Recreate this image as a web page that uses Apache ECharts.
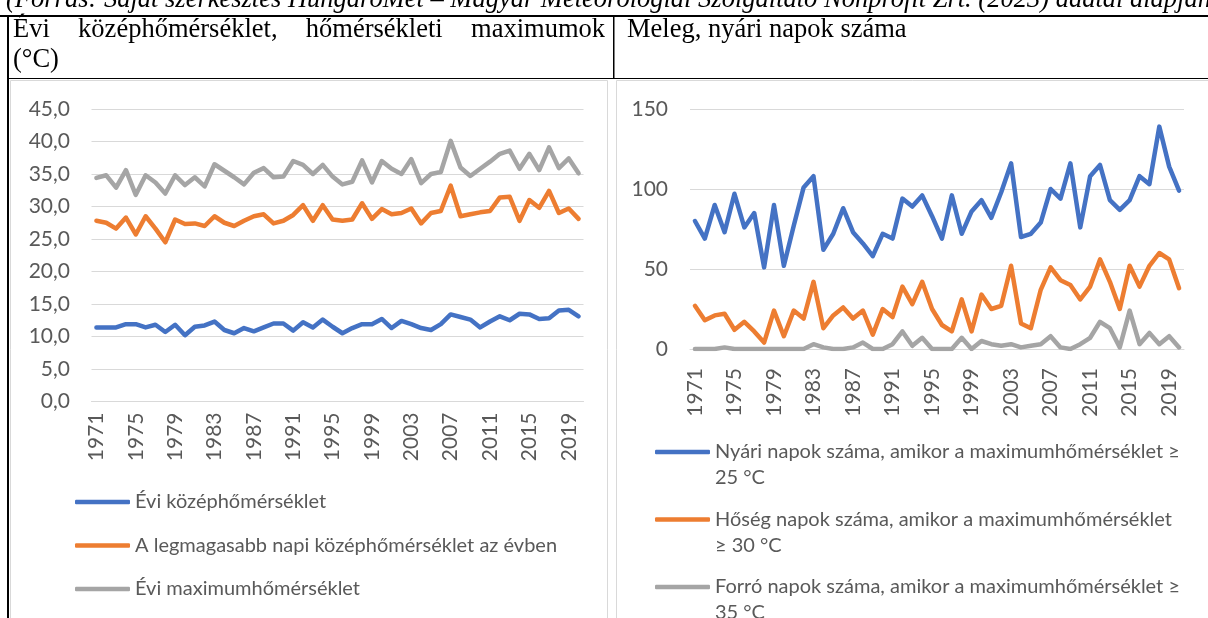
<!DOCTYPE html>
<html>
<head>
<meta charset="utf-8">
<title>Hőmérséklet, meleg napok</title>
<script src="https://cdn.jsdelivr.net/npm/echarts@6/dist/echarts.min.js"></script>
<style>
  html, body { margin: 0; padding: 0; background: #fff; }
  #chart { width: 1208px; height: 618px; }
</style>
</head>
<body>
<div id="chart"></div>
<script>
// évek (kategóriák)
const years = [
  '1971', '1972', '1973', '1974', '1975', '1976', '1977', '1978', '1979', '1980',
  '1981', '1982', '1983', '1984', '1985', '1986', '1987', '1988', '1989', '1990',
  '1991', '1992', '1993', '1994', '1995', '1996', '1997', '1998', '1999', '2000',
  '2001', '2002', '2003', '2004', '2005', '2006', '2007', '2008', '2009', '2010',
  '2011', '2012', '2013', '2014', '2015', '2016', '2017', '2018', '2019', '2020'
]

// bal oldali diagram (°C)
const meanTemp = [
  11.4, 11.4, 11.4, 11.9, 11.9, 11.4, 11.8, 10.7, 11.8, 10.2,
  11.5, 11.7, 12.3, 11.0, 10.5, 11.3, 10.8, 11.4, 12.0, 12.0,
  10.9, 12.2, 11.4, 12.6, 11.5, 10.5, 11.3, 11.9, 11.9, 12.7,
  11.3, 12.4, 11.9, 11.3, 11.0, 11.9, 13.4, 13.0, 12.6, 11.4,
  12.3, 13.1, 12.5, 13.5, 13.4, 12.7, 12.8, 14.0, 14.1, 13.1
]
const maxDailyMean = [
  27.8, 27.5, 26.6, 28.3, 25.7, 28.5, 26.6, 24.5, 28.0, 27.3,
  27.4, 27.0, 28.5, 27.5, 27.0, 27.8, 28.5, 28.8, 27.4, 27.8,
  28.7, 30.2, 27.8, 30.2, 28.0, 27.8, 28.0, 30.5, 28.1, 29.6,
  28.8, 29.0, 29.7, 27.4, 29.0, 29.3, 33.2, 28.5, 28.8, 29.1,
  29.3, 31.4, 31.5, 27.8, 31.0, 29.8, 32.4, 29.0, 29.7, 28.1
]
const annualMax = [
  34.4, 34.8, 32.9, 35.6, 31.8, 34.8, 33.7, 32.0, 34.8, 33.3,
  34.5, 33.1, 36.5, 35.5, 34.5, 33.4, 35.2, 35.9, 34.5, 34.6,
  37.0, 36.4, 35.0, 36.4, 34.6, 33.4, 33.8, 37.1, 33.7, 37.0,
  35.8, 35.0, 37.3, 33.6, 35.0, 35.3, 40.1, 36.0, 34.7, 35.8,
  36.9, 38.1, 38.6, 35.8, 38.1, 35.6, 39.1, 35.9, 37.4, 35.1
]

// jobb oldali diagram (napok száma)
const summerDays = [
  80, 69, 90, 73, 97, 76, 85, 51, 90, 52,
  77, 101, 108, 62, 72, 88, 73, 66, 58, 72,
  69, 94, 89, 96, 83, 69, 96, 72, 86, 93,
  82, 98, 116, 70, 72, 79, 100, 94, 116, 76,
  108, 115, 93, 87, 93, 108, 103, 139, 114, 99
]
const heatDays = [
  27, 18, 21, 22, 12, 17, 11, 4, 24, 8,
  24, 19, 42, 13, 21, 26, 19, 24, 9, 25,
  20, 39, 28, 42, 25, 15, 11, 31, 11, 34,
  25, 27, 52, 16, 13, 37, 51, 43, 40, 31,
  39, 56, 42, 25, 52, 39, 52, 60, 56, 38
]
const hotDays = [
  0, 0, 0, 1, 0, 0, 0, 0, 0, 0,
  0, 0, 3, 1, 0, 0, 1, 4, 0, 0,
  3, 11, 2, 7, 0, 0, 0, 7, 0, 5,
  3, 2, 3, 1, 2, 3, 8, 1, 0, 3,
  7, 17, 13, 1, 24, 3, 10, 3, 8, 1
]

const leftNames = [
  'Évi középhőmérséklet',
  'A legmagasabb napi középhőmérséklet az évben',
  'Évi maximumhőmérséklet'
]
const rightNames = [
  'Nyári napok száma, amikor a maximumhőmérséklet ≥\n25 °C',
  'Hőség napok száma, amikor a maximumhőmérséklet\n≥ 30 °C',
  'Forró napok száma, amikor a maximumhőmérséklet ≥\n35 °C'
]
const colors = ['#4472C4', '#ED7D31', '#A5A5A5']

const sans = 'Lato'
const serif = '"Liberation Serif", "Times New Roman", serif'
const textGray = '#595959'
const gridGray = '#D9D9D9'
const axisFont = 21
const legendFont = 20

// sorkizárt fejléc szavainak helye
const headWords = ['Évi', 'középhőmérséklet,', 'hőmérsékleti', 'maximumok']
const headFont = '26.5px ' + serif
const ctx = document.createElement('canvas').getContext('2d')
ctx.font = headFont
const wordW = headWords.map(w => ctx.measureText(w).width)
const headLeft = 13, headRight = 605
const wordGap = (headRight - headLeft - wordW.reduce((a, b) => a + b, 0)) / (headWords.length - 1)
const headTexts = []
let hx = headLeft
headWords.forEach((w, i) => {
  headTexts.push({
    type: 'text',
    style: { text: w, x: hx, y: 30, font: headFont, fill: '#000', verticalAlign: 'middle', textVerticalAlign: 'middle' }
  })
  hx += wordW[i] + wordGap
})

function lineSeries(name, data, color, idx) {
  return {
    name: name,
    type: 'line',
    xAxisIndex: idx,
    yAxisIndex: idx,
    data: data,
    symbol: 'none',
    smooth: false,
    color: color,
    lineStyle: { color: color, width: 4.5, cap: 'round', join: 'round' },
    emphasis: { disabled: true }
  }
}

function catAxis(gridIndex, margin) {
  return {
    type: 'category',
    gridIndex: gridIndex,
    data: years,
    boundaryGap: true,
    axisTick: { show: false },
    axisLine: { show: true, lineStyle: { color: gridGray, width: 1 } },
    axisLabel: {
      interval: 3, rotate: 90, margin: margin,
      color: textGray, fontSize: axisFont, fontFamily: sans
    },
    splitLine: { show: false }
  }
}

const chart = echarts.init(document.getElementById('chart'))
chart.setOption({
  backgroundColor: '#fff',
  animation: false,
  grid: [
    { left: 91.5, top: 109, width: 492, height: 292.5, containLabel: false, outerBoundsMode: 'none' },
    { left: 690, top: 109, width: 494, height: 240, containLabel: false, outerBoundsMode: 'none' }
  ],
  xAxis: [catAxis(0, 11), catAxis(1, 19)],
  yAxis: [
    {
      type: 'value', gridIndex: 0, min: 0, max: 45, interval: 5,
      axisLine: { show: false }, axisTick: { show: false },
      axisLabel: {
        margin: 21.5, color: textGray, fontSize: axisFont, fontFamily: sans,
        formatter: v => v.toFixed(1).replace('.', ',')
      },
      splitLine: { lineStyle: { color: gridGray, width: 1 } }
    },
    {
      type: 'value', gridIndex: 1, min: 0, max: 150, interval: 50,
      axisLine: { show: false }, axisTick: { show: false },
      axisLabel: { margin: 22, color: textGray, fontSize: axisFont, fontFamily: sans },
      splitLine: { lineStyle: { color: gridGray, width: 1 } }
    }
  ],
  legend: [
    {
      orient: 'vertical', left: 75, top: 490, height: 200, padding: 0,
      itemWidth: 55, itemHeight: 4.5, itemGap: 19.5, icon: 'roundRect',
      selectedMode: false,
      data: leftNames,
      textStyle: { color: textGray, fontSize: legendFont, fontFamily: sans, lineHeight: 24 }
    },
    {
      // üres első sor: így az ikon a szöveg első sorához igazodik
      orient: 'vertical', left: 655, top: 413, height: 400, padding: 0,
      itemWidth: 55, itemHeight: 4.5, itemGap: -10.5, icon: 'roundRect',
      selectedMode: false,
      data: rightNames,
      formatter: name => ' \n' + name,
      textStyle: { color: textGray, fontSize: legendFont, fontFamily: sans, lineHeight: 26 }
    }
  ],
  series: [
    lineSeries(leftNames[0], meanTemp, colors[0], 0),
    lineSeries(leftNames[1], maxDailyMean, colors[1], 0),
    lineSeries(leftNames[2], annualMax, colors[2], 0),
    lineSeries(rightNames[0], summerDays, colors[0], 1),
    lineSeries(rightNames[1], heatDays, colors[1], 1),
    lineSeries(rightNames[2], hotDays, colors[2], 1)
  ],
  graphic: [
    // forrás sor (felül levágva)
    {
      type: 'text',
      style: {
        text: '(Forrás: Saját szerkesztés HungaroMet – Magyar Meteorológiai Szolgáltató Nonprofit Zrt. (2023) adatai alapján)',
        x: 6, y: 0, font: 'italic 26.5px ' + serif, fill: '#000',
        verticalAlign: 'middle', textVerticalAlign: 'middle'
      }
    },
    // táblázat vonalai
    { type: 'rect', shape: { x: 0, y: 15, width: 1208, height: 2 }, style: { fill: '#000' } },
    { type: 'rect', shape: { x: 7, y: 15, width: 2, height: 603 }, style: { fill: '#000' } },
    { type: 'rect', shape: { x: 613, y: 15, width: 1.5, height: 64 }, style: { fill: '#000' } },
    { type: 'rect', shape: { x: 7, y: 78, width: 1201, height: 1 }, style: { fill: '#000' } },
    // diagram keretek
    { type: 'rect', shape: { x: 10.5, y: 80.5, width: 597, height: 545 }, style: { fill: null, stroke: gridGray, lineWidth: 1 } },
    { type: 'rect', shape: { x: 616.5, y: 80.5, width: 600, height: 545 }, style: { fill: null, stroke: gridGray, lineWidth: 1 } },
    // fejléc
    ...headTexts,
    {
      type: 'text',
      style: { text: '(°C)', x: 13, y: 60, font: headFont, fill: '#000', verticalAlign: 'middle', textVerticalAlign: 'middle' }
    },
    {
      type: 'text',
      style: { text: 'Meleg, nyári napok száma', x: 627, y: 30, font: headFont, fill: '#000', verticalAlign: 'middle', textVerticalAlign: 'middle' }
    }
  ]
})
</script>
</body>
</html>
